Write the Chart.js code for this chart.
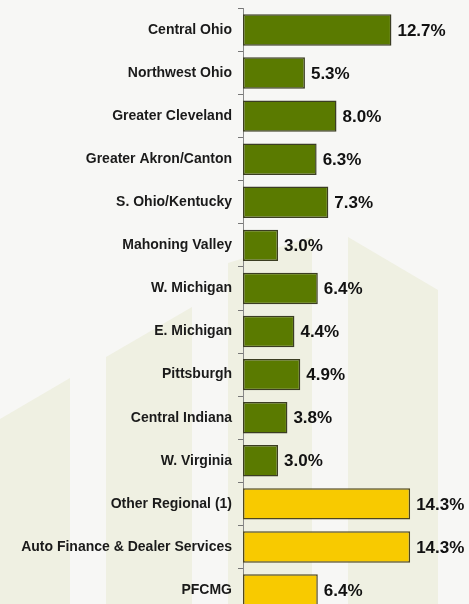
<!DOCTYPE html>
<html>
<head>
<meta charset="utf-8">
<script src="https://cdn.jsdelivr.net/npm/chart.js@4.4.1/dist/chart.umd.min.js"></script>
<style>
  html, body { margin: 0; padding: 0; background: #f7f7f5; overflow: hidden; }
  #wrap { width: 469px; height: 632px; margin-top: -6px; }
</style>
</head>
<body>
<div id="wrap"><canvas id="deposits"></canvas></div>
<script>
// deposit share by region / line of business
const regions = [
  'Central Ohio', 'Northwest Ohio', 'Greater Cleveland', 'Greater Akron/Canton',
  'S. Ohio/Kentucky', 'Mahoning Valley', 'W. Michigan', 'E. Michigan',
  'Pittsburgh', 'Central Indiana', 'W. Virginia', 'Other Regional (1)',
  'Auto Finance & Dealer Services', 'PFCMG'
];
const shares = [12.7, 5.3, 8.0, 6.3, 7.3, 3.0, 6.4, 4.4, 4.9, 3.8, 3.0, 14.3, 14.3, 6.4];
const isRegional = [true, true, true, true, true, true, true, true, true, true, true, false, false, false];

const GREEN = '#5a7a00', GREEN_EDGE = '#3b3d22';
const GOLD = '#f8ca00', GOLD_EDGE = '#4e4620';

// faint building-like stripes behind the chart (canvas sits 6px above the page top)
const backdrop = {
  id: 'backdrop',
  beforeDraw(chart) {
    const ctx = chart.ctx;
    ctx.save();
    ctx.fillStyle = '#f7f7f5';
    ctx.fillRect(0, 0, chart.width, chart.height);
    ctx.translate(0, 6);
    ctx.fillStyle = '#eff0e2';
    const shapes = [
      [[0, 419], [70, 378], [70, 640], [0, 640]],
      [[106, 357], [192, 307], [192, 640], [106, 640]],
      [[228, 263], [312, 237], [312, 640], [228, 640]],
      [[348, 237], [438, 290], [438, 640], [348, 640]]
    ];
    shapes.forEach(s => {
      ctx.beginPath();
      s.forEach((p, i) => i ? ctx.lineTo(p[0], p[1]) : ctx.moveTo(p[0], p[1]));
      ctx.closePath();
      ctx.fill();
    });
    ctx.restore();
  }
};

// percentage labels at the end of each bar
const valueLabels = {
  id: 'valueLabels',
  afterDatasetsDraw(chart) {
    const ctx = chart.ctx;
    const meta = chart.getDatasetMeta(0);
    ctx.save();
    ctx.font = 'bold 17px "Liberation Sans", Arial, sans-serif';
    ctx.fillStyle = '#111';
    ctx.textAlign = 'left';
    ctx.textBaseline = 'middle';
    meta.data.forEach((bar, i) => {
      ctx.fillText(shares[i].toFixed(1) + '%', bar.x + 6, bar.y + 1);
    });
    ctx.restore();
  }
};

new Chart(document.getElementById('deposits'), {
  type: 'bar',
  data: {
    labels: regions,
    datasets: [{
      data: shares,
      backgroundColor: isRegional.map(r => r ? GREEN : GOLD),
      borderColor: isRegional.map(r => r ? GREEN_EDGE : GOLD_EDGE),
      borderWidth: 1.5,
      borderSkipped: false,
      barPercentage: 0.73,
      categoryPercentage: 1
    }]
  },
  options: {
    indexAxis: 'y',
    responsive: true,
    maintainAspectRatio: false,
    animation: false,
    layout: { padding: { top: -2, right: 39, bottom: 2, left: 0 } },
    plugins: { legend: { display: false }, tooltip: { enabled: false } },
    scales: {
      x: { display: false, min: 0, max: 16 },
      y: {
        afterFit(scale) { scale.width = 243; },
        border: { display: true, color: '#888', width: 1 },
        grid: { drawOnChartArea: false, tickLength: 5, color: '#777', offset: true },
        ticks: {
          padding: 6,
          color: '#1a1a1a',
          font: { family: '"Liberation Sans", Arial, sans-serif', size: 14, weight: 'bold' }
        }
      }
    }
  },
  plugins: [backdrop, valueLabels]
});
</script>
</body>
</html>
